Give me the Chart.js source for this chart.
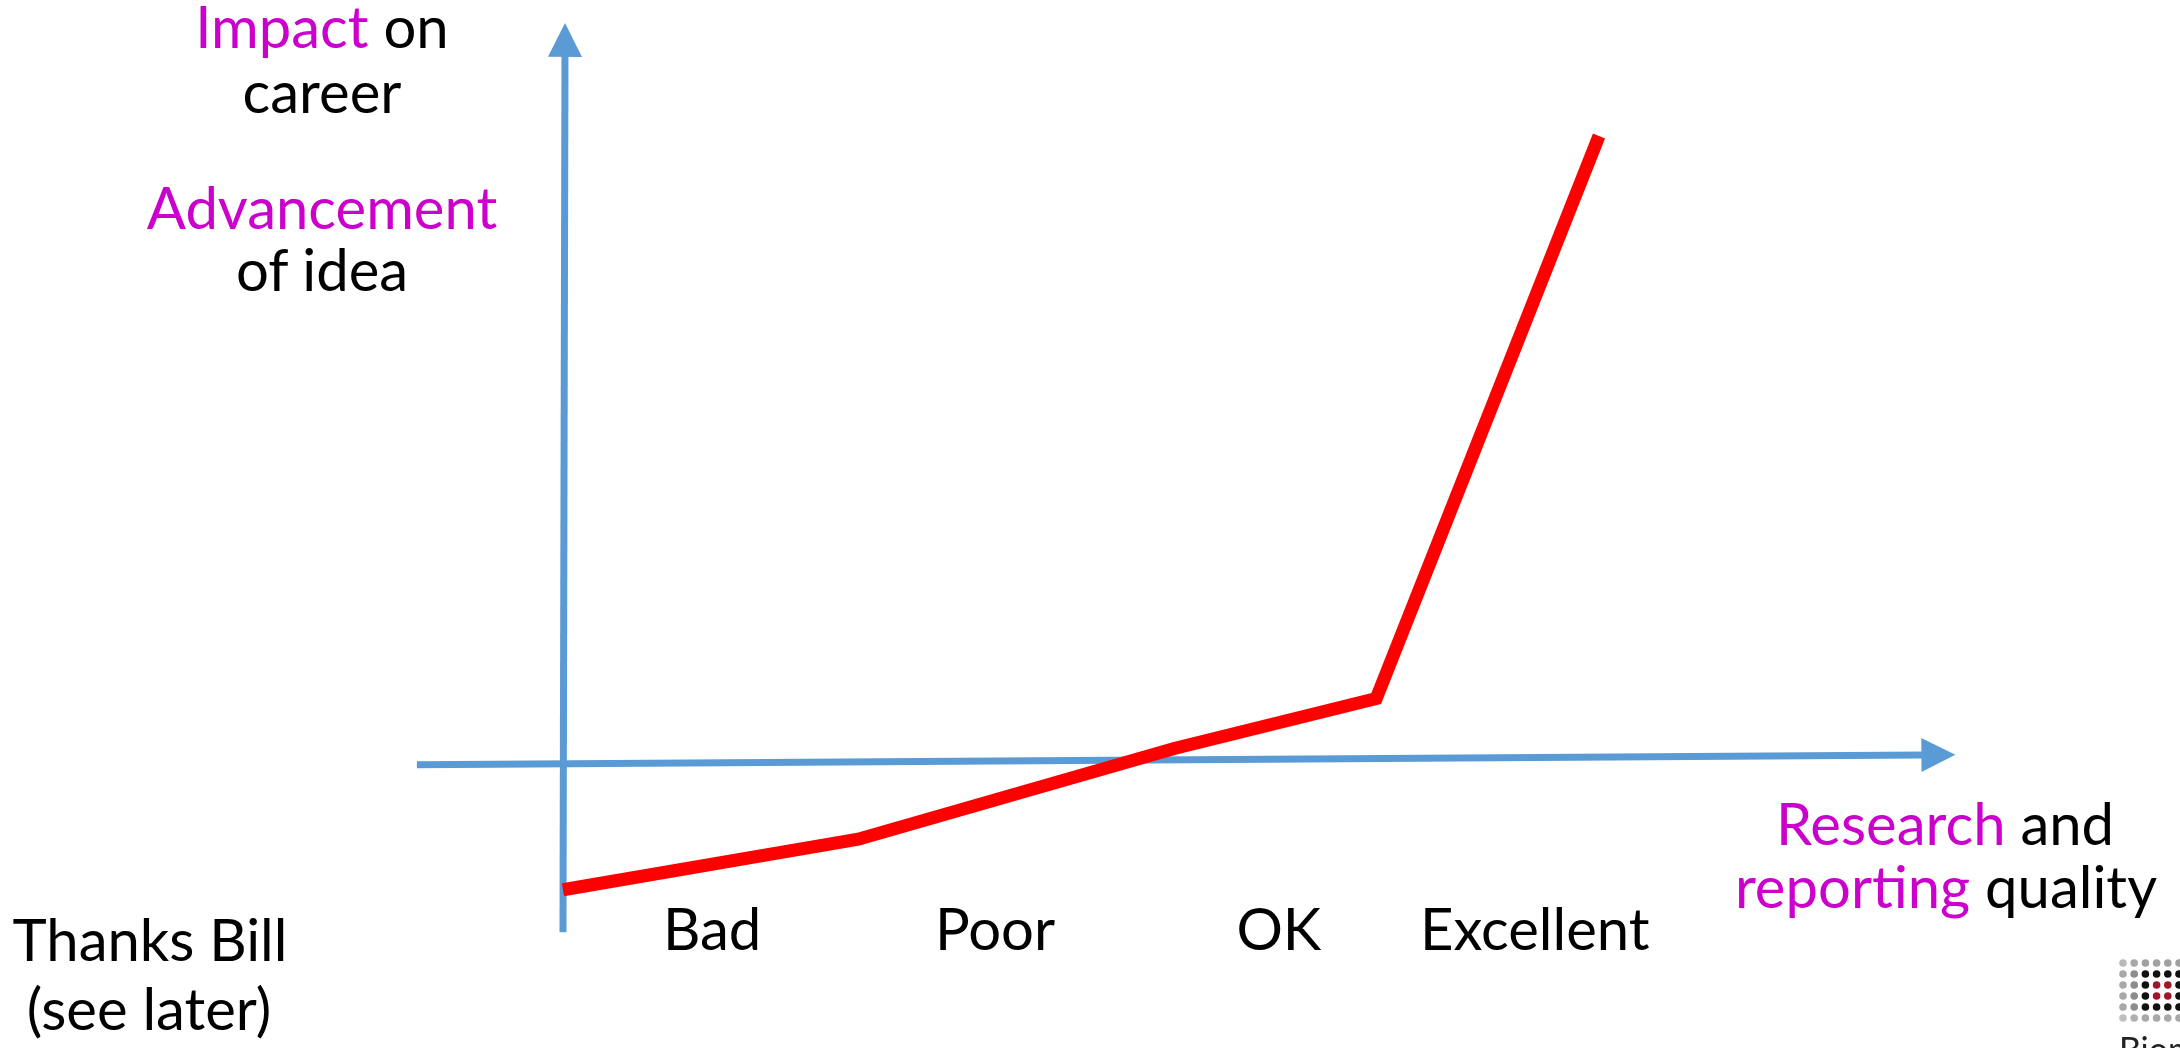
<!DOCTYPE html>
<html>
<head>
<meta charset="utf-8">
<script src="https://cdn.jsdelivr.net/npm/chart.js@4/dist/chart.umd.min.js"></script>
<style>
html, body { margin: 0; padding: 0; background: #fff; overflow: hidden; }
#wrap { position: relative; width: 2180px; height: 1048px; }
#chart { position: absolute; left: 0; top: 0; }
.t { position: absolute; font-family: Lato, sans-serif; font-size: 58px; line-height: 58px;
     white-space: nowrap; color: #000; transform: translateX(-50%); }
.m { color: #cc00cc; }
</style>
</head>
<body>
<div id="wrap">
  <canvas id="chart" width="2180" height="1048"></canvas>
  <div class="t" style="left:322px; top:-3px"><span class="m">Impact</span> on</div>
  <div class="t" style="left:322px; top:62px">career</div>
  <div class="t" style="left:322px; top:178px"><span class="m">Advancement</span></div>
  <div class="t" style="left:322px; top:240px">of idea</div>
  <div class="t" style="left:1945px; top:794px"><span class="m">Research</span> and</div>
  <div class="t" style="left:1946px; top:857px"><span class="m">reporting</span> quality</div>
  <div class="t" style="left:150px; top:910px">Thanks Bill</div>
  <div class="t" style="left:149px; top:979px">(see later)</div>
</div>
<script>
// quality (x) vs impact (y), arbitrary units, vertical axis at x = 0
const quality = [0, 2.85, 5.9, 7.85, 10];
const impact = [-2.06, -1.25, 0.2, 1, 10];

// category tick labels along the quality axis
const categories = ['Bad', 'Poor', 'OK', 'Excellent'];
const categoryPos = [1.44, 4.17, 6.91, 9.38];
const categoryLabelY = -3.02;

// hand-drawn arrows: start and end of each (slightly off true)
const hArrow = [[-1.41, -0.06], [13.44, 0.1]];
const vArrow = [[0, -2.74], [0.02, 11.81]];

const blue = '#5b9bd5';

function arrow(ctx, x, y, from, to) {
  const x1 = x.getPixelForValue(from[0]), y1 = y.getPixelForValue(from[1]);
  const x2 = x.getPixelForValue(to[0]), y2 = y.getPixelForValue(to[1]);
  const a = Math.atan2(y2 - y1, x2 - x1);
  const head = 34, half = 17;
  const bx = x2 - Math.cos(a) * head, by = y2 - Math.sin(a) * head;
  ctx.beginPath();
  ctx.moveTo(x1, y1);
  ctx.lineTo(bx + Math.cos(a) * 2, by + Math.sin(a) * 2);
  ctx.stroke();
  ctx.beginPath();
  ctx.moveTo(x2, y2);
  ctx.lineTo(bx - Math.sin(a) * half, by + Math.cos(a) * half);
  ctx.lineTo(bx + Math.sin(a) * half, by - Math.cos(a) * half);
  ctx.closePath();
  ctx.fill();
}

const arrowAxes = {
  id: 'arrowAxes',
  beforeDatasetsDraw(chart) {
    const { ctx, scales: { x, y } } = chart;
    ctx.save();
    ctx.strokeStyle = blue;
    ctx.fillStyle = blue;
    ctx.lineWidth = 7;
    arrow(ctx, x, y, hArrow[0], hArrow[1]);
    arrow(ctx, x, y, vArrow[0], vArrow[1]);
    ctx.restore();
  },
  afterDraw(chart) {
    const { ctx, scales: { x, y } } = chart;
    ctx.save();
    ctx.font = '58px Lato, sans-serif';
    ctx.fillStyle = '#000';
    ctx.textAlign = 'center';
    ctx.textBaseline = 'alphabetic';
    const ly = y.getPixelForValue(categoryLabelY);
    categories.forEach((c, i) => ctx.fillText(c, x.getPixelForValue(categoryPos[i]), ly));

    // little logo in the corner
    const cols = [
      ['#b8b8b8', '#a8a8a8', '#a0a0a0', '#a0a0a0', '#a0a0a0', '#a0a0a0'],
      ['#a8a8a8', '#8c8c8c', '#111', '#111', '#111', '#111'],
      ['#a8a8a8', '#8c8c8c', '#111', '#a0152a', '#a0152a', '#111'],
      ['#a8a8a8', '#8c8c8c', '#111', '#a0152a', '#a0152a', '#111'],
      ['#a8a8a8', '#8c8c8c', '#111', '#111', '#111', '#111'],
      ['#c0c0c0', '#b0b0b0', '#a8a8a8', '#a8a8a8', '#a8a8a8', '#a8a8a8']
    ];
    cols.forEach((row, r) => row.forEach((c, k) => {
      ctx.fillStyle = c;
      ctx.beginPath();
      ctx.arc(2123 + k * 11.2, 963 + r * 11, 3.8, 0, Math.PI * 2);
      ctx.fill();
    }));
    ctx.fillStyle = '#222';
    ctx.textAlign = 'left';
    ctx.font = '34px Lato, sans-serif';
    ctx.fillText('Biom', 2119, 1062);
    ctx.restore();
  }
};

const ctx = document.getElementById('chart').getContext('2d');

const chart = new Chart(ctx, {
  type: 'line',
  data: {
    datasets: [{
      data: quality.map((q, i) => ({ x: q, y: impact[i] })),
      borderColor: '#ff0000',
      borderWidth: 13,
      borderJoinStyle: 'miter',
      borderCapStyle: 'butt',
      pointRadius: 0,
      tension: 0,
      fill: false
    }]
  },
  options: {
    responsive: false,
    animation: false,
    devicePixelRatio: 1,
    layout: { padding: 0 },
    plugins: { legend: { display: false }, tooltip: { enabled: false } },
    scales: {
      x: { type: 'linear', min: -5.434, max: 15.608, display: false },
      y: { type: 'linear', min: -4.592, max: 12.176, display: false }
    }
  },
  plugins: [arrowAxes]
});
</script>
</body>
</html>
